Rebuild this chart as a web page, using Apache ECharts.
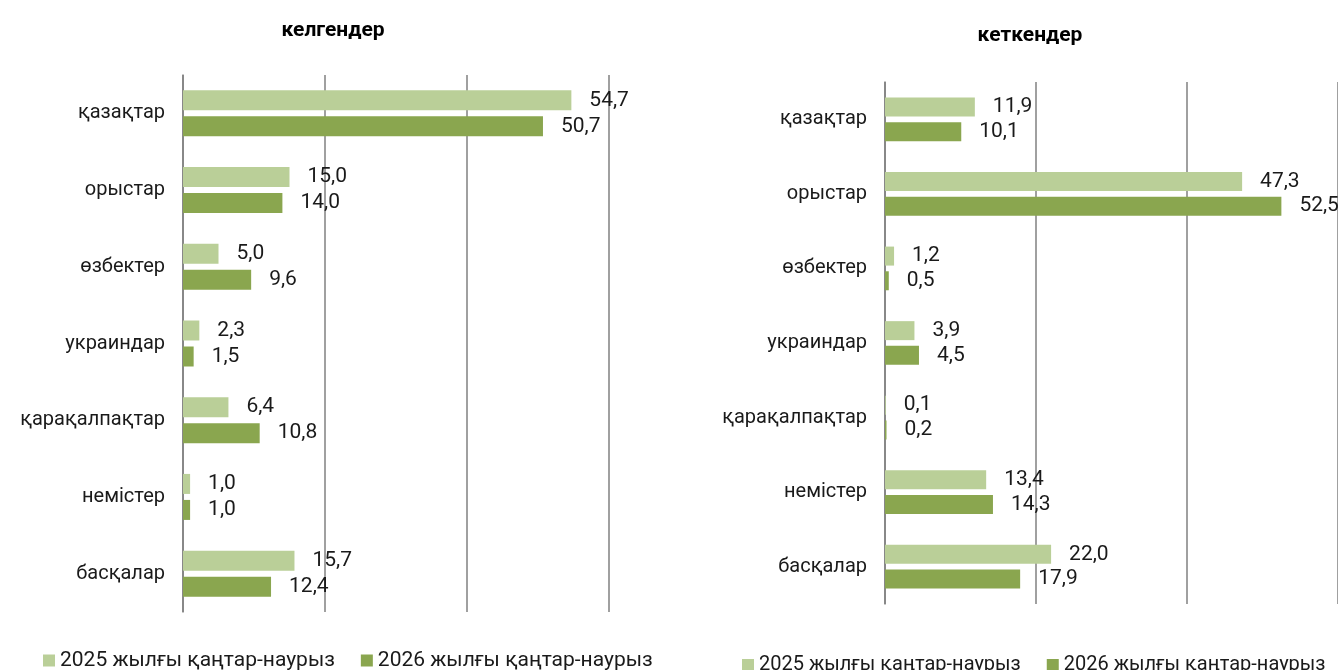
<!DOCTYPE html>
<html>
<head>
<meta charset="utf-8">
<script src="https://cdn.jsdelivr.net/npm/echarts@6/dist/echarts.min.js"></script>
<style>
  html, body { margin: 0; padding: 0; background: #fff; }
  #main { width: 1338px; height: 670px; }
</style>
</head>
<body>
<div id="main"></div>
<script>
// categories (top to bottom)
const categories = ['қазақтар', 'орыстар', 'өзбектер', 'украиндар', 'қарақалпақтар', 'немістер', 'басқалар'];

// келгендер (arrivals)
const arrived2025 = [54.7, 15.0, 5.0, 2.3, 6.4, 1.0, 15.7];
const arrived2026 = [50.7, 14.0, 9.6, 1.5, 10.8, 1.0, 12.4];

// кеткендер (departures)
const left2025 = [11.9, 47.3, 1.2, 3.9, 0.1, 13.4, 22.0];
const left2026 = [10.1, 52.5, 0.5, 4.5, 0.2, 14.3, 17.9];

const seriesNames = ['2025 жылғы қаңтар-наурыз', '2026 жылғы қаңтар-наурыз'];
const titles = ['келгендер', 'кеткендер'];

const light = '#bacf98';
const dark = '#8aa64f';
const lineColor = '#808080';
const font = 'Roboto';

const fmt = p => p.value.toFixed(1).replace('.', ',');

const makeSeries = (name, data, idx, color, bw) => ({
  name: name,
  type: 'bar',
  xAxisIndex: idx,
  yAxisIndex: idx,
  data: data,
  barWidth: bw,
  barGap: '30%',
  itemStyle: { color: color },
  label: {
    show: true,
    position: 'right',
    distance: 18,
    formatter: fmt,
    color: '#1a1a1a',
    fontFamily: font,
    fontSize: 21
  }
});

const xAx = idx => ({
  gridIndex: idx,
  type: 'value',
  min: 0,
  max: 60,
  interval: 20,
  axisLabel: { show: false },
  axisLine: { show: false },
  axisTick: { show: false },
  splitLine: { lineStyle: { color: lineColor, width: 1.5 } }
});

const yAx = idx => ({
  gridIndex: idx,
  type: 'category',
  inverse: true,
  data: categories,
  axisLine: { show: true, lineStyle: { color: lineColor, width: 1.5 } },
  axisTick: { show: false },
  axisLabel: { margin: 18, color: '#1a1a1a', fontFamily: font, fontSize: 20 }
});

let option = {
  animation: false,
  title: [
    { text: titles[0], left: 328, top: 15, textAlign: 'center',
      textStyle: { fontFamily: font, fontSize: 21, fontWeight: 'bold', color: '#000' } },
    { text: titles[1], left: 1025, top: 20, textAlign: 'center',
      textStyle: { fontFamily: font, fontSize: 21, fontWeight: 'bold', color: '#000' } }
  ],
  legend: [
    { left: 38, top: 645, width: 640, itemWidth: 12, itemHeight: 12, itemGap: 26, icon: 'rect',
      data: seriesNames, textStyle: { fontFamily: font, fontSize: 21, color: '#1a1a1a' } },
    { left: 737, top: 650, width: 600, itemWidth: 12, itemHeight: 12, itemGap: 26, icon: 'rect',
      data: seriesNames, textStyle: { fontFamily: font, fontSize: 20, color: '#1a1a1a' } }
  ],
  grid: [
    { left: 183, top: 75, width: 426, height: 537 },
    { left: 885, top: 82, width: 457, height: 522 }
  ],
  xAxis: [xAx(0), xAx(1)],
  yAxis: [yAx(0), yAx(1)],
  series: [
    makeSeries(seriesNames[0], arrived2025, 0, light, 20),
    makeSeries(seriesNames[1], arrived2026, 0, dark, 20),
    makeSeries(seriesNames[0], left2025, 1, light, 19),
    makeSeries(seriesNames[1], left2026, 1, dark, 19)
  ]
};

let myChart = echarts.init(document.getElementById('main'));
myChart.setOption(option);
</script>
</body>
</html>
